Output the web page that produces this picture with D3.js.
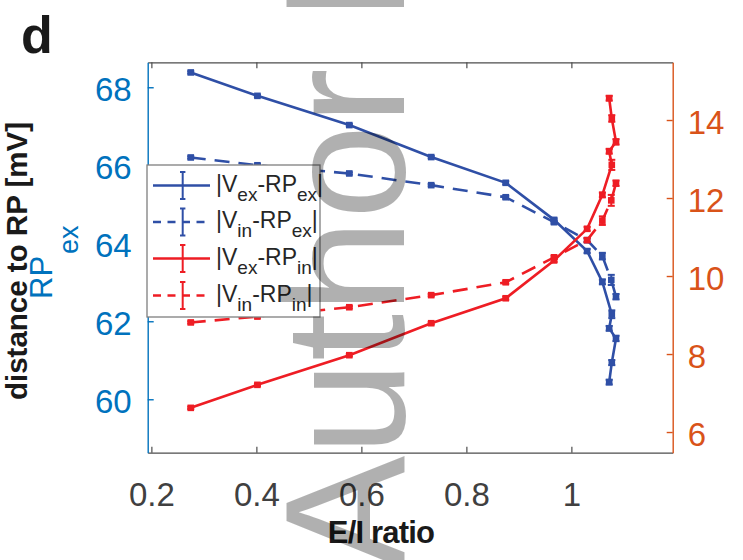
<!DOCTYPE html>
<html>
<head>
<meta charset="utf-8">
<script src="https://cdn.jsdelivr.net/npm/d3@7"></script>
<style>
  html, body { margin: 0; padding: 0; background: #fff; }
  svg { display: block; font-family: "Liberation Sans", Arial, Helvetica, sans-serif; }
</style>
</head>
<body>
<svg id="chart" width="743" height="560"></svg>
<script>
// ---------- data ----------
const xTicks = [0.2, 0.4, 0.6, 0.8, 1];
const leftTicks = [60, 62, 64, 66, 68];
const rightTicks = [6, 8, 10, 12, 14];

// E/I ratio for the solid (|V_ex - ...|) series
const ratioSolid = [0.275, 0.402, 0.577, 0.733, 0.875, 0.967, 1.03, 1.059, 1.077, 1.072, 1.085, 1.077, 1.072];
// E/I ratio for the dashed (|V_in - ...|) series
const ratioDashed = [0.275, 0.402, 0.577, 0.733, 0.875, 0.967, 1.03, 1.059, 1.076, 1.085];

const vexRPex = [68.38, 67.78, 67.03, 66.21, 65.55, 64.60, 63.80, 63.01, 62.18, 61.82, 61.56, 60.94, 60.44];
const vexRPexErr = [0.03, 0.03, 0.03, 0.03, 0.04, 0.04, 0.05, 0.06, 0.10, 0.06, 0.07, 0.065, 0.06];

const vinRPex = [66.20, 66.00, 65.79, 65.49, 65.18, 64.54, 64.08, 63.67, 63.06, 62.63];
const vinRPexErr = [0.03, 0.03, 0.03, 0.03, 0.04, 0.04, 0.05, 0.085, 0.13, 0.07];

const vexRPin = [6.62, 7.21, 7.97, 8.79, 9.43, 10.40, 11.21, 12.08, 12.85, 13.20, 13.44, 14.04, 14.56];
const vexRPinErr = [0.03, 0.03, 0.03, 0.03, 0.04, 0.04, 0.05, 0.06, 0.13, 0.06, 0.07, 0.085, 0.06];

const vinRPin = [8.81, 8.96, 9.20, 9.51, 9.84, 10.48, 10.92, 11.42, 11.94, 12.38];
const vinRPinErr = [0.03, 0.03, 0.03, 0.03, 0.04, 0.04, 0.05, 0.11, 0.14, 0.07];

const seriesNames = [
  ["V", "ex", "-RP", "ex"],
  ["V", "in", "-RP", "ex"],
  ["V", "ex", "-RP", "in"],
  ["V", "in", "-RP", "in"]
];

// ---------- layout ----------
const L = 147.7, R = 672.7, T = 62.3, B = 452.7;
const BLUE = "#2f4fa6", RED = "#ee1d24";
const LEFTC = "#0072bd", RIGHTC = "#d95319", AXC = "#4d4d4d";

const svg = d3.select("#chart");
const x = d3.scaleLinear().domain([0.193, 1.193]).range([L, R]);
const yL = d3.scaleLinear().domain([58.63, 68.64]).range([B, T]);
const yR = d3.scaleLinear().domain([5.47, 15.48]).range([B, T]);

// ---------- axes ----------
const gx = svg.append("g").attr("transform", `translate(0,${B})`)
  .call(d3.axisBottom(x).tickValues(xTicks).tickFormat(d3.format("~g")).tickSize(-6).tickSizeOuter(0));
gx.select(".domain").attr("stroke", AXC).attr("stroke-width", 1.2);
gx.selectAll(".tick line").attr("stroke", AXC).attr("stroke-width", 1.2);
gx.selectAll(".tick text").attr("y", 53).attr("dy", 0).attr("fill", "#404040")
  .attr("font-size", 33).attr("font-family", "Liberation Sans, Arial, sans-serif");

const gt = svg.append("g").attr("transform", `translate(0,${T})`)
  .call(d3.axisTop(x).tickValues(xTicks).tickFormat("").tickSize(-6).tickSizeOuter(0));
gt.select(".domain").attr("stroke", AXC).attr("stroke-width", 1.2);
gt.selectAll(".tick line").attr("stroke", AXC).attr("stroke-width", 1.2);

const gl = svg.append("g").attr("transform", `translate(${L},0)`)
  .call(d3.axisLeft(yL).tickValues(leftTicks).tickSize(-6).tickSizeOuter(0));
gl.select(".domain").attr("stroke", LEFTC).attr("stroke-width", 1.4);
gl.selectAll(".tick line").attr("stroke", LEFTC).attr("stroke-width", 1.4);
gl.selectAll(".tick text").attr("x", -16).attr("dy", 13).attr("fill", LEFTC)
  .attr("font-size", 33).attr("font-family", "Liberation Sans, Arial, sans-serif");

const gr = svg.append("g").attr("transform", `translate(${R},0)`)
  .call(d3.axisRight(yR).tickValues(rightTicks).tickSize(-6).tickSizeOuter(0));
gr.select(".domain").attr("stroke", RIGHTC).attr("stroke-width", 1.4);
gr.selectAll(".tick line").attr("stroke", RIGHTC).attr("stroke-width", 1.4);
gr.selectAll(".tick text").attr("x", 15).attr("dy", 13).attr("fill", RIGHTC)
  .attr("font-size", 33).attr("font-family", "Liberation Sans, Arial, sans-serif");

// ---------- series ----------
function drawSeries(xs, ys, errs, yScale, color, dashed) {
  const pts = xs.map((d, i) => ({ x: d, y: ys[i], e: errs[i] }));
  const g = svg.append("g");
  g.append("path").datum(pts)
    .attr("fill", "none").attr("stroke", color).attr("stroke-width", 2.6)
    .attr("stroke-dasharray", dashed ? "15,9" : null)
    .attr("d", d3.line().x(d => x(d.x)).y(d => yScale(d.y)));
  const eb = g.selectAll(".eb").data(pts).enter().append("g");
  eb.append("line").attr("x1", d => x(d.x)).attr("x2", d => x(d.x))
    .attr("y1", d => yScale(d.y - d.e)).attr("y2", d => yScale(d.y + d.e))
    .attr("stroke", color).attr("stroke-width", 2);
  eb.append("line").attr("x1", d => x(d.x) - 3.5).attr("x2", d => x(d.x) + 3.5)
    .attr("y1", d => yScale(d.y - d.e)).attr("y2", d => yScale(d.y - d.e))
    .attr("stroke", color).attr("stroke-width", 2);
  eb.append("line").attr("x1", d => x(d.x) - 3.5).attr("x2", d => x(d.x) + 3.5)
    .attr("y1", d => yScale(d.y + d.e)).attr("y2", d => yScale(d.y + d.e))
    .attr("stroke", color).attr("stroke-width", 2);
  g.selectAll(".mk").data(pts).enter().append("rect")
    .attr("x", d => x(d.x) - 3.3).attr("y", d => yScale(d.y) - 3.3)
    .attr("width", 6.6).attr("height", 6.6).attr("fill", color);
}
drawSeries(ratioSolid, vexRPex, vexRPexErr, yL, BLUE, false);
drawSeries(ratioDashed, vinRPex, vinRPexErr, yL, BLUE, true);
drawSeries(ratioSolid, vexRPin, vexRPinErr, yR, RED, false);
drawSeries(ratioDashed, vinRPin, vinRPinErr, yR, RED, true);

// ---------- legend ----------
const lg = svg.append("g");
lg.append("rect").attr("x", 147).attr("y", 165).attr("width", 173).attr("height", 152)
  .attr("fill", "#fff").attr("stroke", "#7f7f7f").attr("stroke-width", 1.3);
const legColors = [BLUE, BLUE, RED, RED];
const legDash = [false, true, false, true];
const rowY = [185.5, 222, 258.5, 295.5];
seriesNames.forEach((nm, i) => {
  const cy = rowY[i];
  lg.append("line").attr("x1", 153).attr("x2", 210).attr("y1", cy).attr("y2", cy)
    .attr("stroke", legColors[i]).attr("stroke-width", 2.6)
    .attr("stroke-dasharray", legDash[i] ? "8,6.5" : null);
  lg.append("line").attr("x1", 182.7).attr("x2", 182.7).attr("y1", cy - 13.5).attr("y2", cy + 13.5)
    .attr("stroke", legColors[i]).attr("stroke-width", 2);
  [cy - 13.5, cy + 13.5].forEach(yy => lg.append("line")
    .attr("x1", 180).attr("x2", 185.4).attr("y1", yy).attr("y2", yy)
    .attr("stroke", legColors[i]).attr("stroke-width", 2));
  const t = lg.append("text").attr("x", 216).attr("y", cy + 6).attr("font-size", 23).attr("fill", "#262626");
  t.append("tspan").text("|" + nm[0]);
  t.append("tspan").attr("font-size", 19).attr("dy", 9).text(nm[1]);
  t.append("tspan").attr("dy", -9).text(nm[2]);
  t.append("tspan").attr("font-size", 19).attr("dy", 9).text(nm[3]);
  t.append("tspan").attr("dy", -9).text("|");
});

// ---------- labels ----------
svg.append("text").attr("transform", "translate(27,261) rotate(-90)")
  .attr("text-anchor", "middle").attr("font-weight", "bold").attr("font-size", 29.5)
  .attr("fill", "#1a1a1a").text("distance to RP [mV]");
const rp = svg.append("text").attr("transform", "translate(52,299) rotate(-90)")
  .attr("font-size", 31).attr("fill", LEFTC);
rp.append("tspan").text("RP");
rp.append("tspan").attr("font-size", 27).attr("dy", 26).attr("dx", 2).text("ex");

svg.append("text").attr("x", 381).attr("y", 543).attr("text-anchor", "middle")
  .attr("font-weight", "bold").attr("font-size", 31).attr("letter-spacing", -0.8)
  .attr("fill", "#1a1a1a").text("E/I ratio");

svg.append("text").attr("x", 21).attr("y", 53).attr("font-weight", "bold")
  .attr("font-size", 52).attr("fill", "#1a1a1a").text("d");

// ---------- watermark ----------
svg.append("text").attr("transform", "translate(404,569) rotate(-90)")
  .attr("font-size", 170).attr("fill", "#000").attr("fill-opacity", 0.31)
  .text("Author Manuscript");
</script>
</body>
</html>
